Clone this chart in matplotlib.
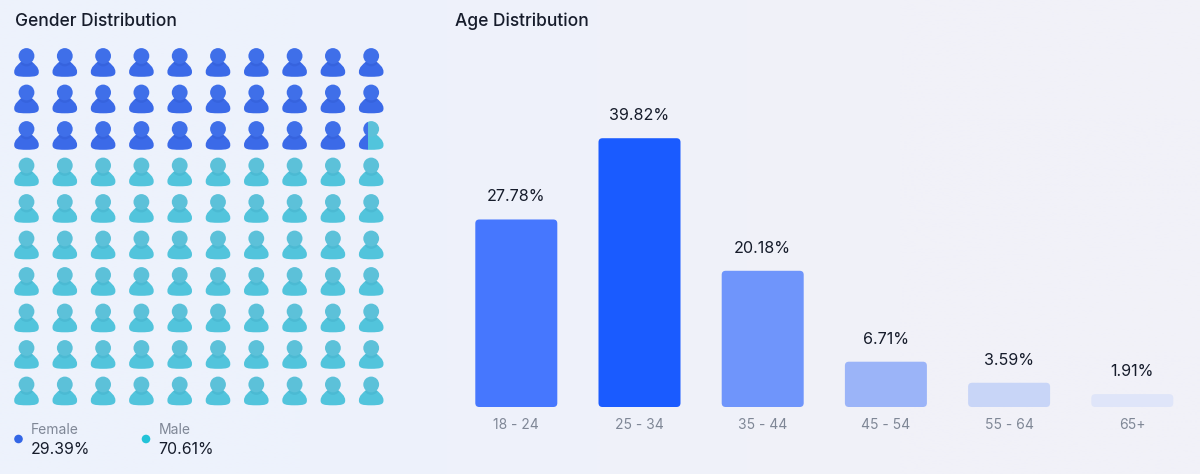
import numpy as np
import matplotlib
matplotlib.use('Agg')
import matplotlib.pyplot as plt
from matplotlib.patches import Circle, FancyBboxPatch, PathPatch, Rectangle
from matplotlib.path import Path

W, H = 1200, 474

# data
genders = ['Female', 'Male']
gender_share = [29.39, 70.61]
gender_labels = ['29.39%', '70.61%']
age_groups = ['18 - 24', '25 - 34', '35 - 44', '45 - 54', '55 - 64', '65+']
age_share = [27.78, 39.82, 20.18, 6.71, 3.59, 1.91]
age_labels = ['27.78%', '39.82%', '20.18%', '6.71%', '3.59%', '1.91%']
bar_colors = ['#4677fe', '#1a5bff', '#6f95fb', '#9bb4f8', '#c8d5f7', '#dfe5f9']

FEMALE = {'body': '#3b6ae8', 'head': '#3f6fe9', 'shade': '#2b55c8'}
MALE = {'body': '#52c4dc', 'head': '#5cc1d9', 'shade': '#3ba4c0'}
DARK = '#161c2b'
GREY = '#7f8796'

plt.rcParams['font.family'] = ['Inter', 'DejaVu Sans']

fig = plt.figure(figsize=(W / 100, H / 100), dpi=100)


def px_axes(left, top, right, bottom):
    return fig.add_axes([left / W, 1 - bottom / H, (right - left) / W, (bottom - top) / H])


# soft page background, blue on the left and greyer on the right
bg = px_axes(0, 0, W, H)
grad = np.zeros((2, 2, 3))
grad[:, 0] = matplotlib.colors.to_rgb('#edf2fc')
grad[:, 1] = matplotlib.colors.to_rgb('#f1f1f8')
bg.imshow(grad, aspect='auto', extent=(0, W, H, 0), interpolation='bilinear')
bg.set_axis_off()

# everything in the overlay is placed in picture pixels
ov = px_axes(0, 0, W, H)
ov.set_xlim(0, W)
ov.set_ylim(H, 0)
ov.set_axis_off()
ov.patch.set_alpha(0)

ov.text(15, 21.5, 'Gender Distribution', fontsize=12.5, color=DARK, va='center', fontweight='medium')
ov.text(455, 21.5, 'Age Distribution', fontsize=12.5, color=DARK, va='center', fontweight='medium')


def body_path(cx, cy):
    # sloped dome with soft lower corners, relative to the icon centre
    verts = [(-12.3, 9.5), (-12.3, 4.5), (-8, 1.5), (-5, -1),
             (-3, -2.5), (3, -2.5), (5, -1),
             (8, 1.5), (12.3, 4.5), (12.3, 9.5),
             (12.3, 13.5), (9, 14.3), (0, 14.3),
             (-9, 14.3), (-12.3, 13.5), (-12.3, 9.5), (-12.3, 9.5)]
    codes = [Path.MOVETO] + [Path.CURVE4] * 15 + [Path.CLOSEPOLY]
    return Path([(cx + x, cy + y) for x, y in verts], codes)


def draw_person(cx, cy, style, clip=None):
    body = PathPatch(body_path(cx, cy), fc=style['body'], ec='none')
    shade = Circle((cx, cy - 3.5), 7.4, fc=style['shade'], ec='none', alpha=0.3)
    head = Circle((cx, cy - 6.5), 7.9, fc=style['head'], ec='none')
    ov.add_patch(body)
    ov.add_patch(shade)
    ov.add_patch(head)
    if clip is None:
        shade.set_clip_path(body)
    else:
        shade.set_visible(False)
        body.set_clip_path(clip)
        head.set_clip_path(clip)


# waffle: 100 icons filled row by row, the share decides the colour
col_x = 26.5 + 38.3 * np.arange(10)
row_y = 62.5 + 36.5 * np.arange(10)
female_share = gender_share[0]
for r, y in enumerate(row_y):
    for c, x in enumerate(col_x):
        n = r * 10 + c
        fill = min(max(female_share - n, 0), 1)
        if fill >= 1:
            draw_person(x, y, FEMALE)
        elif fill <= 0:
            draw_person(x, y, MALE)
        else:
            split = x - 13 + 26 * fill
            left = Rectangle((x - 14, y - 16), split - x + 14, 34, transform=ov.transData)
            right = Rectangle((split, y - 16), x + 14 - split, 34, transform=ov.transData)
            draw_person(x, y, FEMALE, clip=left)
            draw_person(x, y, MALE, clip=right)

# legend
legend_x = [18.5, 146]
for x, name, label, col in zip(legend_x, genders, gender_labels, ['#3366e6', '#22c3d8']):
    ov.add_patch(Circle((x, 439), 4.3, fc=col, ec='none'))
    ov.text(x + 12.5, 429.5, name, fontsize=10, color=GREY, va='center')
    ov.text(x + 12.5, 449.5, label, fontsize=11.4, color=DARK, va='center')

# bars, from a real axis: 123.2 px a category, 6.75 px a percent
slot = 123.2
ax = px_axes(516.3 - slot / 2, 138 - 40, 1132.3 + slot / 2, 407)
ax.patch.set_alpha(0)
ax.set_xlim(-0.5, 5.5)
y_top = 309 / 6.75
ax.set_ylim(0, y_top)
ax.set_axis_off()
px_x = 1 / slot
px_y = 1 / 6.75
half = 41 * px_x
for i, (v, lab, col, cat) in enumerate(zip(age_share, age_labels, bar_colors, age_groups)):
    ax.add_patch(FancyBboxPatch((i - half, 0), 2 * half, v,
                                boxstyle=f'round,pad=0,rounding_size={4 * px_x}',
                                mutation_aspect=px_y / px_x, fc=col, ec='none'))
    ax.text(i, v + 22.5 * px_y, lab, fontsize=11.6, color=DARK, ha='center', va='center')
    ax.text(i, -18 * px_y, cat, fontsize=10, color=GREY, ha='center', va='center', clip_on=False)

fig.savefig('out.png', dpi=100)
